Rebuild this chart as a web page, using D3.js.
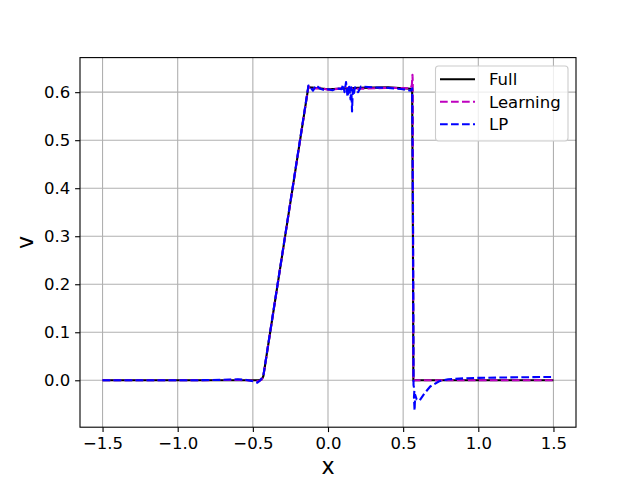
<!DOCTYPE html>
<html>
<head>
<meta charset="utf-8">
<script src="https://cdn.jsdelivr.net/npm/d3@7"></script>
<style>
  body { margin: 0; background: #fff; }
  svg { display: block; font-family: "DejaVu Sans", sans-serif; }
</style>
</head>
<body>
<svg width="640" height="480"></svg>
<script>
// series
const fullX = [-1.5, -0.9, -0.46, -0.44, -0.43, -0.13, -0.12, 0.0, 0.2, 0.4, 0.55, 0.56, 0.565, 0.568, 0.6, 1.0, 1.5];
const fullY = [0, 0, 0, 0.002, 0.009, 0.612, 0.610, 0.606, 0.609, 0.610, 0.607, 0.605, 0.30, 0.0, 0.0, 0.0, 0.0];

const learnX = [-1.5, -0.9, -0.6, -0.5, -0.46, -0.44, -0.43, -0.13, -0.11, -0.05, 0.0, 0.1, 0.2, 0.4, 0.55, 0.558, 0.562, 0.564, 0.566, 0.568, 0.575, 0.6, 1.0, 1.5];
const learnY = [0, 0, 0.001, -0.001, -0.002, 0.002, 0.009, 0.612, 0.607, 0.609, 0.605, 0.608, 0.607, 0.609, 0.608, 0.615, 0.636, 0.62, 0.30, -0.002, 0.0, 0.0, 0.0, 0.0];

const lpX = [-1.5, -0.9, -0.7, -0.6, -0.55, -0.5, -0.47, -0.45, -0.43, -0.13, -0.12, -0.1, -0.08, -0.05, -0.02, 0.0, 0.03, 0.06, 0.09, 0.10, 0.11, 0.12, 0.13, 0.14, 0.15, 0.155, 0.16, 0.165, 0.17, 0.18, 0.2, 0.22, 0.3, 0.4, 0.5, 0.55, 0.56, 0.566, 0.569, 0.575, 0.572, 0.576, 0.58, 0.59, 0.61, 0.64, 0.68, 0.74, 0.8, 0.9, 1.0, 1.2, 1.5];
const lpY = [0, 0, 0.001, 0.002, 0.001, -0.002, -0.005, 0.0, 0.01, 0.614, 0.612, 0.603, 0.614, 0.607, 0.604, 0.606, 0.604, 0.608, 0.606, 0.616, 0.60, 0.621, 0.59, 0.615, 0.585, 0.61, 0.56, 0.605, 0.595, 0.61, 0.60, 0.612, 0.61, 0.609, 0.606, 0.603, 0.608, 0.30, -0.01, -0.02, -0.035, -0.063, -0.03, -0.04, -0.042, -0.028, -0.013, -0.002, 0.002, 0.004, 0.005, 0.006, 0.007];

const xTicks = [-1.5, -1.0, -0.5, 0.0, 0.5, 1.0, 1.5];
const yTicks = [0.0, 0.1, 0.2, 0.3, 0.4, 0.5, 0.6];

const seriesNames = ["Full", "Learning", "LP"];
const colors = ["#000000", "#bf00bf", "#0000ff"];
const dashes = [null, "7.7,3.3", "7.7,3.3"];

const svg = d3.select("svg");
const mLeft = 80, mRight = 576, mTop = 57.6, mBottom = 427.2;

const x = d3.scaleLinear().domain([-1.65, 1.65]).range([mLeft, mRight]);
const y = d3.scaleLinear().domain([-0.0977, 0.672]).range([mBottom, mTop]);

// grid
svg.append("g").selectAll("line")
    .data(xTicks).enter().append("line")
    .attr("x1", d => x(d)).attr("x2", d => x(d))
    .attr("y1", mTop).attr("y2", mBottom)
    .attr("stroke", "#b0b0b0").attr("stroke-width", 1.1);
svg.append("g").selectAll("line")
    .data(yTicks).enter().append("line")
    .attr("x1", mLeft).attr("x2", mRight)
    .attr("y1", d => y(d)).attr("y2", d => y(d))
    .attr("stroke", "#b0b0b0").attr("stroke-width", 1.1);

const series = [
    d3.zip(fullX, fullY),
    d3.zip(learnX, learnY),
    d3.zip(lpX, lpY)
];

const line = d3.line().x(d => x(d[0])).y(d => y(d[1]));

const plot = svg.append("g");
series.forEach(function(s, i) {
    plot.append("path")
        .attr("d", line(s))
        .attr("fill", "none")
        .attr("stroke", colors[i])
        .attr("stroke-width", 2.1)
        .attr("stroke-dasharray", dashes[i])
        .attr("stroke-linejoin", "round");
});

// axes
const fmt = d3.format(".1f");
const xAxis = svg.append("g")
    .attr("transform", "translate(0," + mBottom + ")")
    .call(d3.axisBottom(x).tickValues(xTicks).tickFormat(fmt).tickSize(4.9).tickPadding(4.9));
const yAxis = svg.append("g")
    .attr("transform", "translate(" + mLeft + ",0)")
    .call(d3.axisLeft(y).tickValues(yTicks).tickFormat(fmt).tickSize(4.9).tickPadding(4.9));

[xAxis, yAxis].forEach(function(a) {
    a.select(".domain").remove();
    a.selectAll(".tick line").attr("stroke", "#000").attr("stroke-width", 1.1);
    a.selectAll("text")
        .attr("fill", "#000")
        .style("font-size", "16.5px")
        .style("font-family", "DejaVu Sans");
});

svg.append("rect")
    .attr("x", mLeft).attr("y", mTop)
    .attr("width", mRight - mLeft).attr("height", mBottom - mTop)
    .attr("fill", "none").attr("stroke", "#000").attr("stroke-width", 1.1);

// axis labels
svg.append("text")
    .attr("x", (mLeft + mRight) / 2).attr("y", 474)
    .attr("text-anchor", "middle")
    .style("font-size", "22.2px")
    .text("x");
svg.append("text")
    .attr("transform", "translate(33," + ((mTop + mBottom) / 2) + ") rotate(-90)")
    .attr("text-anchor", "middle")
    .style("font-size", "22.2px")
    .text("v");

// legend
const lg = svg.append("g");
lg.append("rect")
    .attr("x", 435.5).attr("y", 66)
    .attr("width", 132.5).attr("height", 75)
    .attr("rx", 3)
    .attr("fill", "#fff").attr("fill-opacity", 0.8)
    .attr("stroke", "#cccccc").attr("stroke-width", 1.1);

seriesNames.forEach(function(name, i) {
    const ly = 79.3 + i * 22.5;
    lg.append("line")
        .attr("x1", 440).attr("x2", 475)
        .attr("y1", ly).attr("y2", ly)
        .attr("stroke", colors[i])
        .attr("stroke-width", 2.1)
        .attr("stroke-dasharray", dashes[i]);
    lg.append("text")
        .attr("x", 489).attr("y", ly + 6)
        .style("font-size", "16.5px")
        .text(name);
});
</script>
</body>
</html>
